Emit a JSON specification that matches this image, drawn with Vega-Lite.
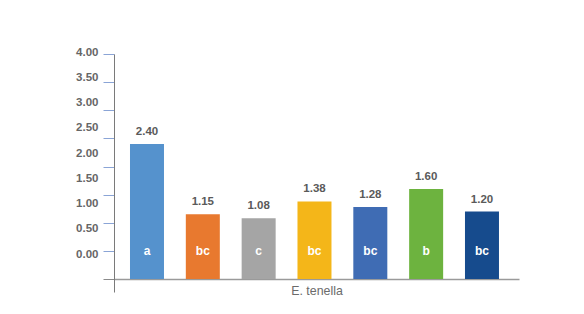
{
  "$schema": "https://vega.github.io/schema/vega-lite/v6.json",
  "width": 405,
  "height": 238,
  "autosize": {"type": "none"},
  "padding": {"left": 114, "top": 54, "right": 65, "bottom": 22},
  "background": "white",
  "config": {
    "view": {"stroke": null},
    "font": "Liberation Sans"
  },
  "data": {
    "values": [
      {"group": "T1", "value": 2.40, "letter": "a"},
      {"group": "T2", "value": 1.15, "letter": "bc"},
      {"group": "T3", "value": 1.08, "letter": "c"},
      {"group": "T4", "value": 1.38, "letter": "bc"},
      {"group": "T5", "value": 1.28, "letter": "bc"},
      {"group": "T6", "value": 1.60, "letter": "b"},
      {"group": "T7", "value": 1.20, "letter": "bc"}
    ]
  },
  "encoding": {
    "x": {
      "field": "group",
      "type": "nominal",
      "sort": null,
      "scale": {"paddingInner": 0.391, "paddingOuter": 0.3225, "align": 0.444},
      "axis": {
        "title": "E. tenella",
        "labels": false,
        "ticks": false,
        "offset": -13,
        "domainColor": "#9a9a9a",
        "domainWidth": 1.5,
        "titleFont": "Liberation Sans",
        "titleFontSize": 12.4,
        "titleFontWeight": "normal",
        "titleColor": "#6b6b6b",
        "titlePadding": 5,
        "minExtent": 0
      }
    }
  },
  "layer": [
    {
      "mark": {"type": "bar"},
      "encoding": {
        "y": {
          "field": "value",
          "type": "quantitative",
          "scale": {"domain": [-0.231, 4.0], "nice": false, "zero": false},
          "axis": {
            "title": null,
            "grid": false,
            "values": [0, 0.5, 1, 1.5, 2, 2.5, 3, 3.5, 4],
            "tickCount": 9,
            "labelOverlap": false,
            "labelBound": false,
            "format": ".2f",
            "tickSize": 11,
            "tickWidth": 1,
            "tickColor": {"condition": {"test": "datum.value == 0", "value": "#8a8a8a"}, "value": "#8aa4d6"},
            "domainColor": "#7a7a7a",
            "domainWidth": 1,
            "labelPadding": 5,
            "labelFont": "Liberation Sans",
            "labelFontSize": 11.5,
            "labelFontWeight": "bold",
            "labelColor": "#666666",
            "labelOffset": {"expr": "5.75*datum.value - 25"}
          }
        },
        "y2": {"datum": 0},
        "color": {
          "field": "group",
          "type": "nominal",
          "legend": null,
          "scale": {
            "domain": ["T1", "T2", "T3", "T4", "T5", "T6", "T7"],
            "range": ["#5592cd", "#e8792f", "#a5a5a5", "#f4b619", "#3f6cb4", "#6db33f", "#164b8d"]
          }
        }
      }
    },
    {
      "mark": {"type": "text", "baseline": "middle", "dy": -12, "font": "Liberation Sans", "fontSize": 11.5, "fontWeight": "bold", "color": "#5a5a5a"},
      "encoding": {
        "y": {"field": "value", "type": "quantitative"},
        "text": {"field": "value", "type": "quantitative", "format": ".2f"}
      }
    },
    {
      "mark": {"type": "text", "baseline": "middle", "font": "Liberation Sans", "fontSize": 12, "fontWeight": "bold", "color": "white"},
      "encoding": {
        "y": {"datum": 0.5},
        "text": {"field": "letter", "type": "nominal"}
      }
    }
  ]
}
